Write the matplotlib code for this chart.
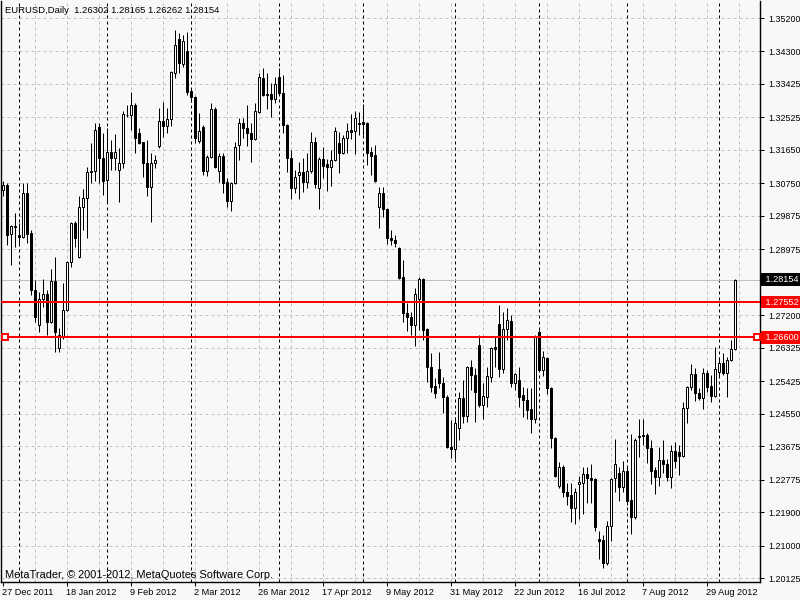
import matplotlib
matplotlib.use("Agg")
import matplotlib.pyplot as plt
import matplotlib.transforms as mtransforms
import numpy as np
import pandas as pd

SYMBOL = "EURUSD,Daily"
FIRST_DAY = "2011-12-27"

opens = [
    1.3057, 1.3070, 1.2939, 1.2960, 1.2936, 1.2930, 1.3049, 1.2941, 1.2788, 1.2694,
    1.2764, 1.2777, 1.2702, 1.2812, 1.2632, 1.2664, 1.2734, 1.2863, 1.2968, 1.2877,
    1.3011, 1.3035, 1.3105, 1.3108, 1.3227, 1.3143, 1.3084, 1.3159, 1.3143, 1.3111,
    1.3130, 1.3260, 1.3259, 1.3286, 1.3210, 1.3186, 1.3130, 1.3065, 1.3130, 1.3175,
    1.3243, 1.3229, 1.3248, 1.3372, 1.3464, 1.3396, 1.3431, 1.3324, 1.3307, 1.3189,
    1.3227, 1.3108, 1.3146, 1.3275, 1.3108, 1.3149, 1.3079, 1.3027, 1.3076, 1.3178,
    1.3237, 1.3224, 1.3210, 1.3194, 1.3267, 1.3359, 1.3316, 1.3316, 1.3302, 1.3361,
    1.3318, 1.3232, 1.3143, 1.3062, 1.3097, 1.3105, 1.3079, 1.3108, 1.3186, 1.3062,
    1.3140, 1.3127, 1.3119, 1.3138, 1.3183, 1.3157, 1.3197, 1.3219, 1.3216, 1.3238,
    1.3240, 1.3237, 1.3159, 1.3151, 1.3011, 1.3049, 1.3006, 1.2928, 1.2922, 1.2901,
    1.2823, 1.2726, 1.2715, 1.2694, 1.2764, 1.2817, 1.2683, 1.2581, 1.2529, 1.2575,
    1.2538, 1.2500, 1.2365, 1.2360, 1.2417, 1.2497, 1.2449, 1.2581, 1.2559, 1.2640,
    1.2478, 1.2500, 1.2554, 1.2634, 1.2696, 1.2575, 1.2683, 1.2704, 1.2538, 1.2546,
    1.2505, 1.2492, 1.2468, 1.2441, 1.2675, 1.2573, 1.2605, 1.2524, 1.2389, 1.2260,
    1.2311, 1.2244, 1.2236, 1.2201, 1.2266, 1.2268, 1.2292, 1.2282, 1.2279, 1.2118,
    1.2115, 1.2053, 1.2152, 1.2282, 1.2294, 1.2258, 1.2300, 1.2222, 1.2177, 1.2392,
    1.2397, 1.2397, 1.2362, 1.2303, 1.2284, 1.2330, 1.2319, 1.2284, 1.2354, 1.2352,
    1.2341, 1.2470, 1.2527, 1.2562, 1.2511, 1.2497, 1.2564, 1.2529, 1.2502, 1.2567,
    1.2591, 1.2564, 1.2599, 1.26302,
]
highs = [
    1.3081, 1.3076, 1.2963, 1.2995, 1.2968, 1.3076, 1.3076, 1.2949, 1.2815, 1.2782,
    1.2817, 1.2788, 1.2844, 1.2877, 1.2686, 1.2807, 1.2865, 1.2971, 1.2973, 1.3041,
    1.3060, 1.3119, 1.3183, 1.3237, 1.3237, 1.3210, 1.3224, 1.3192, 1.3207, 1.3170,
    1.3270, 1.3286, 1.3321, 1.3291, 1.3224, 1.3187, 1.3192, 1.3157, 1.3151, 1.3278,
    1.3294, 1.3278, 1.3377, 1.3488, 1.3480, 1.3474, 1.3482, 1.3332, 1.3310, 1.3264,
    1.3232, 1.3151, 1.3291, 1.3281, 1.3157, 1.3157, 1.3089, 1.3079, 1.3186, 1.3251,
    1.3251, 1.3286, 1.3237, 1.3291, 1.3372, 1.3385, 1.3372, 1.3345, 1.3361, 1.3385,
    1.3367, 1.3234, 1.3165, 1.3111, 1.3132, 1.3143, 1.3157, 1.3213, 1.3200, 1.3146,
    1.3173, 1.3140, 1.3165, 1.3227, 1.3213, 1.3205, 1.3237, 1.3262, 1.3270, 1.3267,
    1.3289, 1.3241, 1.3173, 1.3178, 1.3065, 1.3065, 1.3008, 1.2949, 1.2936, 1.2904,
    1.2869, 1.2753, 1.2729, 1.2793, 1.2823, 1.2820, 1.2686, 1.2618, 1.2551, 1.2621,
    1.2554, 1.2505, 1.2438, 1.2446, 1.2513, 1.2546, 1.2583, 1.2599, 1.2578, 1.2667,
    1.2537, 1.2581, 1.2634, 1.2661, 1.2747, 1.2729, 1.2740, 1.2721, 1.2565, 1.2581,
    1.2527, 1.2524, 1.2524, 1.2667, 1.2680, 1.2624, 1.2608, 1.2526, 1.2392, 1.2325,
    1.2316, 1.2268, 1.2268, 1.2255, 1.2287, 1.2311, 1.2311, 1.2319, 1.2282, 1.2139,
    1.2128, 1.2166, 1.2282, 1.2387, 1.2311, 1.2327, 1.2311, 1.2400, 1.2389, 1.2441,
    1.2441, 1.2403, 1.2384, 1.2311, 1.2365, 1.2384, 1.2333, 1.2370, 1.2378, 1.2370,
    1.2486, 1.2529, 1.2589, 1.2578, 1.2524, 1.2578, 1.2573, 1.2559, 1.2634, 1.2608,
    1.2618, 1.2608, 1.2653, 1.28165,
]
lows = [
    1.3041, 1.2909, 1.2855, 1.2904, 1.2909, 1.2928, 1.2914, 1.2774, 1.2702, 1.2675,
    1.2742, 1.2667, 1.2699, 1.2621, 1.2621, 1.2656, 1.2732, 1.2850, 1.2904, 1.2874,
    1.2949, 1.2928, 1.3076, 1.3081, 1.3076, 1.3044, 1.3022, 1.3111, 1.3111, 1.3025,
    1.3116, 1.3254, 1.3219, 1.3157, 1.3181, 1.3092, 1.3041, 1.2971, 1.3116, 1.3170,
    1.3200, 1.3210, 1.3229, 1.3359, 1.3372, 1.3388, 1.3313, 1.3294, 1.3183, 1.3183,
    1.3097, 1.3095, 1.3143, 1.3116, 1.3079, 1.3049, 1.3011, 1.3000, 1.3074, 1.3138,
    1.3197, 1.3175, 1.3132, 1.3192, 1.3264, 1.3310, 1.3275, 1.3254, 1.3291, 1.3315,
    1.3210, 1.3105, 1.3033, 1.3049, 1.3033, 1.3052, 1.3062, 1.3103, 1.3062, 1.3005,
    1.3089, 1.3054, 1.3068, 1.3135, 1.3103, 1.3154, 1.3157, 1.3194, 1.3154, 1.3205,
    1.3205, 1.3124, 1.3097, 1.3079, 1.2955, 1.2984, 1.2912, 1.2909, 1.2904, 1.2817,
    1.2702, 1.2677, 1.2667, 1.2637, 1.2680, 1.2653, 1.2540, 1.2513, 1.2497, 1.2524,
    1.2457, 1.2362, 1.2335, 1.2333, 1.2384, 1.2430, 1.2433, 1.2519, 1.2433, 1.2473,
    1.2441, 1.2473, 1.2540, 1.2581, 1.2554, 1.2564, 1.2653, 1.2527, 1.2519, 1.2473,
    1.2446, 1.2441, 1.2403, 1.2430, 1.2570, 1.2556, 1.2508, 1.2362, 1.2285, 1.2255,
    1.2231, 1.2209, 1.2163, 1.2158, 1.2171, 1.2185, 1.2214, 1.2214, 1.2139, 1.2064,
    1.2039, 1.2048, 1.2112, 1.2244, 1.2220, 1.2244, 1.2209, 1.2131, 1.2171, 1.2338,
    1.2370, 1.2322, 1.2266, 1.2239, 1.2260, 1.2295, 1.2274, 1.2255, 1.2308, 1.2290,
    1.2338, 1.2430, 1.2519, 1.2489, 1.2492, 1.2468, 1.2513, 1.2486, 1.2500, 1.2554,
    1.2559, 1.2500, 1.2597, 1.26262,
]
closes = [
    1.3070, 1.2936, 1.2960, 1.2957, 1.2930, 1.3049, 1.2939, 1.2788, 1.2715, 1.2764,
    1.2777, 1.2702, 1.2812, 1.2675, 1.2667, 1.2734, 1.2863, 1.2968, 1.2928, 1.3011,
    1.3035, 1.3105, 1.3108, 1.3219, 1.3143, 1.3081, 1.3159, 1.3143, 1.3159, 1.3130,
    1.3262, 1.3258, 1.3286, 1.3197, 1.3184, 1.3130, 1.3065, 1.3130, 1.3138, 1.3243,
    1.3229, 1.3248, 1.3375, 1.3447, 1.3399, 1.3458, 1.3321, 1.3307, 1.3197, 1.3216,
    1.3108, 1.3146, 1.3275, 1.3119, 1.3149, 1.3076, 1.3027, 1.3076, 1.3173, 1.3237,
    1.3224, 1.3210, 1.3194, 1.3270, 1.3361, 1.3313, 1.3314, 1.3302, 1.3342, 1.3318,
    1.3232, 1.3143, 1.3062, 1.3092, 1.3105, 1.3079, 1.3108, 1.3186, 1.3073, 1.3140,
    1.3122, 1.3119, 1.3138, 1.3216, 1.3157, 1.3197, 1.3216, 1.3213, 1.3251, 1.3236,
    1.3235, 1.3157, 1.3149, 1.3081, 1.3049, 1.3006, 1.2928, 1.2922, 1.2914, 1.2820,
    1.2726, 1.2715, 1.2694, 1.2777, 1.2817, 1.2680, 1.2581, 1.2527, 1.2511, 1.2538,
    1.2500, 1.2365, 1.2360, 1.2430, 1.2497, 1.2449, 1.2581, 1.2559, 1.2513, 1.2478,
    1.2502, 1.2556, 1.2632, 1.2629, 1.2575, 1.2683, 1.2707, 1.2538, 1.2562, 1.2500,
    1.2492, 1.2465, 1.2441, 1.2664, 1.2573, 1.2608, 1.2524, 1.2389, 1.2286, 1.2311,
    1.2244, 1.2233, 1.2201, 1.2244, 1.2271, 1.2292, 1.2282, 1.2276, 1.2150, 1.2112,
    1.2053, 1.2152, 1.2279, 1.2319, 1.2258, 1.2300, 1.2220, 1.2177, 1.2384, 1.2395,
    1.2394, 1.2362, 1.2300, 1.2284, 1.2330, 1.2319, 1.2284, 1.2354, 1.2327, 1.2341,
    1.2470, 1.2527, 1.2562, 1.2511, 1.2497, 1.2564, 1.2527, 1.2502, 1.2575, 1.2591,
    1.2564, 1.2599, 1.2629, 1.28154,
]

price_ticks = [1.35200, 1.34300, 1.33425, 1.32525, 1.31650, 1.30750, 1.29875,
               1.28975, 1.27200, 1.26325, 1.25425, 1.24550, 1.23675, 1.22775,
               1.21900, 1.21000, 1.20125]
red_levels = [1.27552, 1.26600]
bid = closes[-1]

BG = "#f8f8f8"
GRID = "#c0c0c0"
PX = 0.72  # one pixel in points at dpi 100
plt.rcParams["font.family"] = ["Liberation Sans", "DejaVu Sans"]
plt.rcParams["font.size"] = 6.4

o = np.array(opens)
h = np.array(highs)
lo = np.array(lows)
c = np.array(closes)
x = np.arange(len(o))
dates = pd.bdate_range(FIRST_DAY, periods=len(o))

fig = plt.figure(figsize=(8, 6), dpi=100, facecolor=BG)
ax = fig.add_axes([1 / 800, 18 / 600, 759 / 800, 581 / 600], facecolor=BG)
ax.set_xlim(-0.5, 189.25)
ax.set_ylim(1.200176, 1.356581)

# grid: gray dashed, plus black dashed month separators
for gx in range(8, len(o) + 8, 8):
    ax.axvline(gx, color=GRID, lw=PX, ls=(0, (3, 3)), zorder=0)
for gy in price_ticks:
    ax.axhline(gy, color=GRID, lw=PX, ls=(0, (3, 3)), zorder=0)
month_starts = np.flatnonzero(np.diff(dates.month) != 0) + 1
for m in month_starts:
    ax.axvline(m, color="black", lw=PX, ls=(0, (3, 3)), zorder=1)

ax.axhline(bid, color=GRID, lw=PX, zorder=1)

# candles
ax.vlines(x, lo, h, color="black", lw=PX, zorder=2)
up = c >= o
body_low = np.minimum(o, c)
body_h = np.maximum(np.abs(c - o), 0.00004)
ax.bar(x[up], body_h[up], bottom=body_low[up], width=0.6,
       color="white", edgecolor="black", lw=PX, zorder=3)
ax.bar(x[~up], body_h[~up], bottom=body_low[~up], width=0.6,
       color="black", edgecolor="black", lw=PX, zorder=3)

for level in red_levels:
    ax.axhline(level, color="red", lw=2 * PX, zorder=4)
ax.plot([0.5, 188.6], [red_levels[1]] * 2, ls="none", marker="s", ms=4.5,
        mfc="white", mec="red", mew=1.4, zorder=5, clip_on=False)

# axes
ax.spines["top"].set_visible(False)
for side in ("left", "right", "bottom"):
    ax.spines[side].set_linewidth(PX * 1.4)
ax.yaxis.tick_right()
ax.set_yticks(price_ticks, [f"{t:.5f}" for t in price_ticks])
ax.tick_params(axis="y", direction="out", length=3, width=PX, pad=3)
label_idx = list(range(0, len(o), 16))
ax.set_xticks(label_idx, [f"{dates[i].day} {dates[i]:%b %Y}" for i in label_idx])
ax.tick_params(axis="x", direction="out", length=3, width=PX, pad=1, labelsize=6.6)
for lab in ax.get_xticklabels():
    lab.set_horizontalalignment("left")
    lab.set_transform(lab.get_transform() + mtransforms.ScaledTranslation(-1 / 100, 0, fig.dpi_scale_trans))

# price labels on the right scale
right = mtransforms.blended_transform_factory(ax.transAxes, ax.transData)
for level, face in [(bid, "black"), (red_levels[0], "red"), (red_levels[1], "red")]:
    ax.text(1.004, level, f" {level:.5f} ", transform=right, ha="left", va="center",
            color="white", clip_on=False, zorder=6, fontsize=6.6,
            bbox=dict(boxstyle="square,pad=0.2", fc=face, ec="none"))

ax.text(0.005, 0.9845, f"{SYMBOL}  {opens[-1]:.5f} {highs[-1]:.5f} {lows[-1]:.5f} {closes[-1]:.5f}",
        transform=ax.transAxes, ha="left", va="center", fontsize=6.8)
ax.text(0.005, 0.012, "MetaTrader, \u00a9 2001-2012, MetaQuotes Software Corp.",
        transform=ax.transAxes, ha="left", va="center", fontsize=7.9)

fig.savefig("out.png", dpi=100, facecolor=BG)
